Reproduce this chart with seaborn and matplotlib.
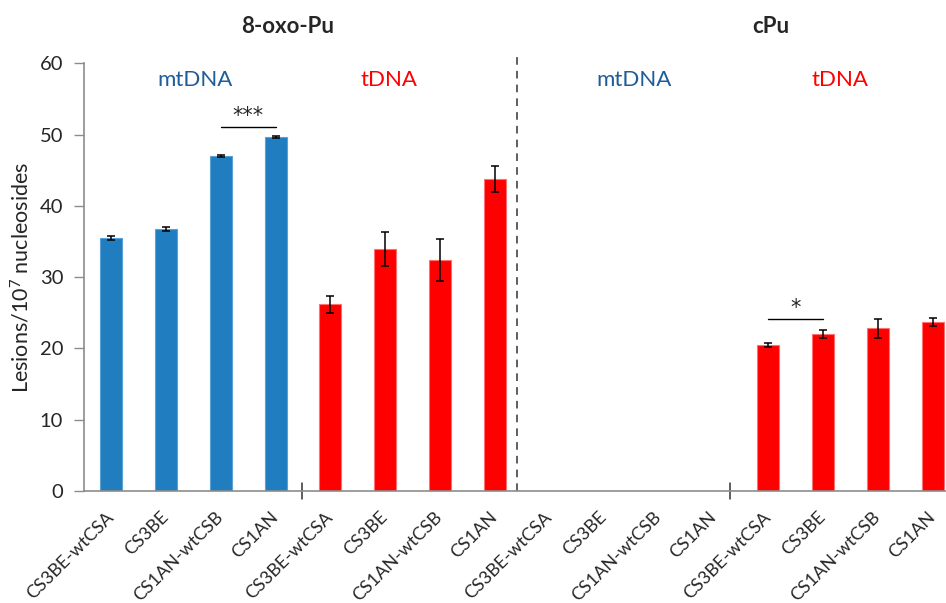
import numpy as np
import pandas as pd
import matplotlib
matplotlib.use("Agg")
import matplotlib.pyplot as plt
import seaborn as sns

# Lesion measurements: 8-oxo-Pu (mtDNA, tDNA) then cPu (mtDNA, tDNA)
cell_lines = ["CS3BE-wtCSA", "CS3BE", "CS1AN-wtCSB", "CS1AN"]
labels = cell_lines * 4
groups = ["mtDNA"] * 4 + ["tDNA"] * 4 + ["mtDNA"] * 4 + ["tDNA"] * 4
values = [35.5, 36.8, 47.0, 49.7,
          26.2, 34.0, 32.4, 43.8,
          np.nan, np.nan, np.nan, np.nan,
          20.5, 22.0, 22.8, 23.7]
errors = [0.25, 0.3, 0.2, 0.12,
          1.2, 2.4, 3.0, 1.8,
          np.nan, np.nan, np.nan, np.nan,
          0.28, 0.6, 1.4, 0.6]

sns.set_theme(style="white")
plt.rcParams["font.family"] = ["Lato", "DejaVu Sans"]
plt.rcParams["mathtext.fontset"] = "custom"
plt.rcParams["mathtext.rm"] = "Lato"
plt.rcParams["mathtext.it"] = "Lato:italic"

BLUE = "#1F7DC0"
RED = "#FF0000"
DARK_BLUE = "#1F5C99"
GREY = "#8C8C8C"
EDGES = {"mtDNA": "#5AA2D6", "tDNA": "#FF7070"}

df = pd.DataFrame({"pos": np.arange(len(values)), "value": values, "group": groups})

fig = plt.figure(figsize=(9.46, 6.03), dpi=100)
ax = fig.add_axes([0.0888, 0.1857, 0.926, 0.7093])

sns.barplot(data=df, x="pos", y="value", hue="group", order=list(range(16)),
            palette={"mtDNA": BLUE, "tDNA": RED}, dodge=False, width=0.4,
            saturation=1, errorbar=None, legend=False, linewidth=0.8, ax=ax)
for patch in ax.patches:
    is_blue = matplotlib.colors.same_color(patch.get_facecolor(), BLUE)
    patch.set_edgecolor(EDGES["mtDNA"] if is_blue else EDGES["tDNA"])

ax.errorbar(df["pos"], df["value"], yerr=errors, fmt="none", ecolor="black",
            elinewidth=1.1, capsize=2.6, capthick=1.1, zorder=5)

ax.set_xlim(-0.5, 15.5)
ax.set_ylim(0, 60)
ax.set_yticks(range(0, 61, 10))
ax.set_xticks(range(16))
ax.set_xticklabels(labels, rotation=45, ha="right", va="center",
                   rotation_mode="anchor", fontsize=13)
ax.tick_params(axis="x", length=0, pad=17)
ax.tick_params(axis="y", length=7, width=1, color=GREY, labelsize=14.5, pad=8,
               left=True)
ax.set_xlabel("")
ax.set_ylabel("Lesions/10$^{7}$ nucleosides", fontsize=15.5, labelpad=5)

for side in ["top", "right"]:
    ax.spines[side].set_visible(False)
for side in ["left", "bottom"]:
    ax.spines[side].set_color(GREY)
    ax.spines[side].set_linewidth(1.2)

# Panel titles and DNA-type headings
ax.text(3.21, 65.2, "8-oxo-Pu", ha="center", va="center", fontsize=16,
        fontweight="bold", clip_on=False)
ax.text(12.05, 65.2, "cPu", ha="center", va="center", fontsize=16,
        fontweight="bold", clip_on=False)
for x, name, col in [(1.53, "mtDNA", DARK_BLUE), (5.07, "tDNA", RED),
                     (9.55, "mtDNA", DARK_BLUE), (13.3, "tDNA", RED)]:
    ax.text(x, 57.6, name, ha="center", va="center", fontsize=16, color=col)

# Divider between the two lesion types
ax.plot([7.41, 7.41], [0, 61.3], ls=(0, (5, 4)), color="#333333", lw=1.1,
        clip_on=False)

# Group separators on the category axis
for x in [3.48, 11.30]:
    ax.plot([x, x], [-1.1, 1.1], color="#333333", lw=1.1, clip_on=False)

# Significance brackets
ax.plot([2, 3], [51.0, 51.0], color="black", lw=1)
ax.text(2.5, 51.2, "***", ha="center", va="bottom", fontsize=15,
        family="DejaVu Sans")
ax.plot([12, 13], [24.2, 24.2], color="black", lw=1)
ax.text(12.5, 24.3, "*", ha="center", va="bottom", fontsize=15,
        family="DejaVu Sans")

fig.savefig("out.png", dpi=100)
